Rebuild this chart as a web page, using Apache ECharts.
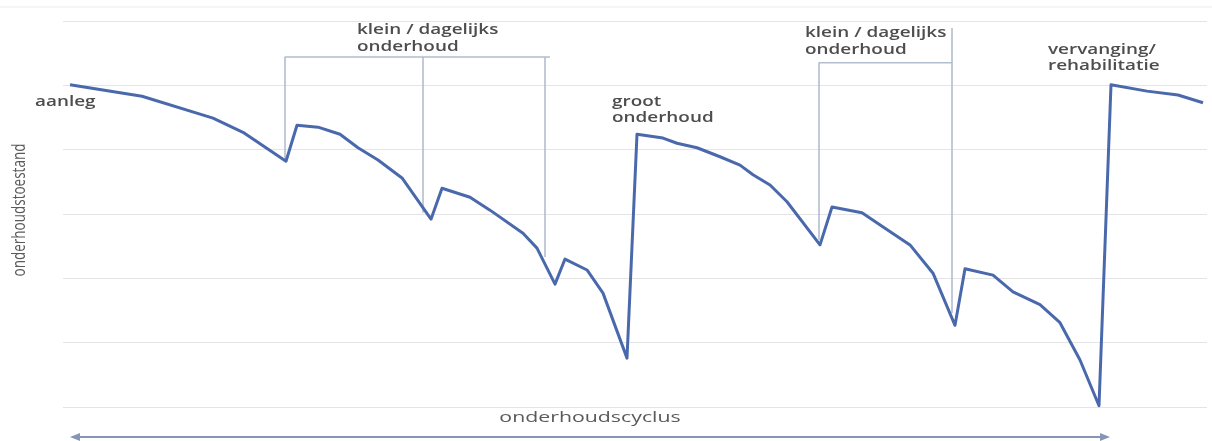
<!DOCTYPE html>
<html>
<head>
<meta charset="utf-8">
<script src="https://cdn.jsdelivr.net/npm/echarts@6/dist/echarts.min.js"></script>
<style>
html,body{margin:0;padding:0;background:#fff;}
#chart{width:1212px;height:441px;}
</style>
</head>
<body>
<div id="chart"></div>
<script>
// condition over time (x: time units, y: condition level 0..6)
const conditionCurve = [
  [7,5.01],[79,4.83],[150,4.49],[180,4.27],[223,3.82],
  [234,4.38],[255,4.35],[277,4.24],[295,4.03],[315,3.84],[339,3.56],[368,2.92],
  [379,3.40],[407,3.26],[427,3.06],[460,2.70],[474,2.47],[492,1.91],
  [502,2.30],[524,2.13],[540,1.77],[564,0.76],
  [574,4.24],[600,4.18],[614,4.10],[634,4.03],[657,3.89],[677,3.76],[690,3.61],[707,3.45],[724,3.19],[757,2.52],
  [769,3.11],[799,3.02],[822,2.78],[847,2.52],[870,2.08],[892,1.27],
  [902,2.15],[930,2.05],[950,1.79],[977,1.59],[997,1.31],[1017,0.73],[1036,0.02],
  [1048,5.01],[1084,4.91],[1115,4.85],[1140,4.73]
];
// annotation bracket segments (data coords)
const bracketSegments = [
  [[222,3.84],[222,5.44],[487,5.44]],
  [[360,5.44],[360,3.02]],
  [[482,5.44],[482,2.33]],
  [[756,2.60],[756,5.35],[889,5.35]],
  [[889,5.89],[889,1.46]]
];
const cycleRange = [7, 1047];
const yTicks = [0,1,2,3,4,5,6];

const labelAanleg = 'aanleg';
const labelKlein = 'klein / dagelijks\nonderhoud';
const labelGroot = 'groot\nonderhoud';
const labelVervanging = 'vervanging/\nrehabilitatie';
const yAxisName = 'onderhoudstoestand';
const xAxisName = 'onderhoudscyclus';

const chart = echarts.init(document.getElementById('chart'));
const bracketColor = '#b3bdd0';
const series = bracketSegments.map(seg => ({
  type:'line', data:seg, symbol:'none', silent:true, z:1,
  lineStyle:{color:bracketColor, width:1.6}
}));
series.push({
  type:'line', data:conditionCurve, symbol:'none', z:5,
  lineStyle:{color:'#4a69ad', width:3, join:'round'}
});

chart.setOption({
  animation:false,
  grid:{left:63, right:5, top:21, bottom:34},
  xAxis:{type:'value', min:0, max:1144, show:true,
    axisLine:{show:false}, axisTick:{show:false}, axisLabel:{show:false}, splitLine:{show:false}},
  yAxis:{type:'value', min:yTicks[0], max:yTicks[yTicks.length-1], interval:1,
    axisLine:{show:false}, axisTick:{show:false}, axisLabel:{show:false},
    splitLine:{lineStyle:{color:'#e4e4e4', width:1.2}}},
  series:series
});

const pL = chart.convertToPixel({gridIndex:0}, [cycleRange[0], 0]);
const pR = chart.convertToPixel({gridIndex:0}, [cycleRange[1], 0]);
const arrowY = 437;
const arrowColor = '#8595b5';
const txtFill = '#4d4d4d';
const annFont = '600 14px "Open Sans", sans-serif';
function ann(text, x, y, lh){
  return {type:'text', x:x, y:y, scaleX:1.35, z:10,
    style:{text:text, font:annFont, fill:txtFill, lineHeight:lh, verticalAlign:'top', align:'left'}};
}
chart.setOption({
  graphic:[
    {type:'line', shape:{x1:0,y1:7,x2:1212,y2:7}, style:{stroke:'#ececec', lineWidth:1.2}},
    ann(labelAanleg, 35, 94, 17),
    ann(labelKlein, 357, 22, 17),
    ann(labelGroot, 612, 94, 16),
    ann(labelKlein, 805, 25, 17),
    ann(labelVervanging, 1048, 42, 16),
    {type:'text', x:20, y:210, rotation:Math.PI/2, scaleY:1.4, z:10,
      style:{text:yAxisName, font:'13.5px "Open Sans", sans-serif', fill:'#5a5a5a', align:'center', verticalAlign:'middle'}},
    {type:'text', x:(pL[0]+pR[0])/2, y:418, scaleX:1.42, z:10,
      style:{text:xAxisName, font:'15px "Open Sans", sans-serif', fill:'#5a5a5a', align:'center', verticalAlign:'middle'}},
    {type:'line', shape:{x1:pL[0]+6, y1:arrowY, x2:pR[0]-6, y2:arrowY}, style:{stroke:arrowColor, lineWidth:2}},
    {type:'polygon', shape:{points:[[pL[0],arrowY],[pL[0]+10,arrowY-4],[pL[0]+10,arrowY+4]]}, style:{fill:arrowColor}},
    {type:'polygon', shape:{points:[[pR[0],arrowY],[pR[0]-10,arrowY-4],[pR[0]-10,arrowY+4]]}, style:{fill:arrowColor}}
  ]
});
</script>
</body>
</html>
